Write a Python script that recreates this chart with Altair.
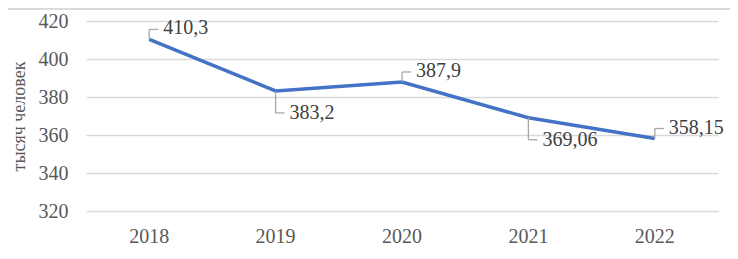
import altair as alt
import pandas as pd

years = ["2018", "2019", "2020", "2021", "2022"]
values = [410.3, 383.2, 387.9, 369.06, 358.15]
labels = ["410,3", "383,2", "387,9", "369,06", "358,15"]
label_side = ["up", "down", "up", "down", "up"]
y_ticks = [320, 340, 360, 380, 400, 420]

df = pd.DataFrame({"year": years, "value": values, "label": labels, "side": label_side})

FONT = "Times New Roman, Liberation Serif, Times, serif"
x = alt.X("year:N", title=None, sort=years,
          scale=alt.Scale(paddingInner=0, paddingOuter=0),
          axis=alt.Axis(labelAngle=0, domain=False, ticks=False, grid=False,
                        labelFont=FONT, labelFontSize=20, labelColor="#595959",
                        labelPadding=15))
y = alt.Y("value:Q", title="тысяч человек",
          scale=alt.Scale(domain=[320, 420], nice=False, zero=False),
          axis=alt.Axis(values=y_ticks, domain=False, ticks=False,
                        gridColor="#d9d9d9", gridWidth=1.5,
                        labelFont=FONT, labelFontSize=20, labelColor="#595959",
                        labelPadding=18, titleFont=FONT, titleFontSize=18,
                        titleFontWeight="normal", titleColor="#595959",
                        titlePadding=10))

base = alt.Chart(df)

line = base.mark_line(color="#4472C4", strokeWidth=3.5).encode(x=x, y=y)

up = base.transform_filter(alt.datum.side == "up")
down = base.transform_filter(alt.datum.side == "down")

lead_col = "#a6a6a6"
up_v = up.mark_rule(color=lead_col, strokeWidth=1.3, y2Offset=-10).encode(
    x=x, y=y, y2="value:Q")
up_h = up.mark_rule(color=lead_col, strokeWidth=1.3, yOffset=-10, x2Offset=9).encode(
    x=x, x2="year:N", y=y)
down_v = down.mark_rule(color=lead_col, strokeWidth=1.3, y2Offset=22).encode(
    x=x, y=y, y2="value:Q")
down_h = down.mark_rule(color=lead_col, strokeWidth=1.3, yOffset=22, x2Offset=9).encode(
    x=x, x2="year:N", y=y)

text_style = dict(font=FONT, fontSize=20, color="#404040", align="left",
                  baseline="middle")
up_t = up.mark_text(dx=14, dy=-11, **text_style).encode(x=x, y=y, text="label:N")
down_t = down.mark_text(dx=14, dy=22, **text_style).encode(x=x, y=y, text="label:N")

border = alt.Chart(df).mark_rule(color="#d9d9d9", strokeWidth=1).encode(
    x=alt.value(-78), x2=alt.value(650), y=alt.value(-12))

chart = alt.layer(border, line, up_v, up_h, down_v, down_h, up_t, down_t).properties(
    width=632, height=190,
    background="white",
    autosize=alt.AutoSizeParams(type="none"),
    padding={"left": 78, "top": 13, "right": 12, "bottom": 37},
).configure_view(stroke=None)

chart.save("out.html", embed_options={"renderer": "svg", "actions": False})
